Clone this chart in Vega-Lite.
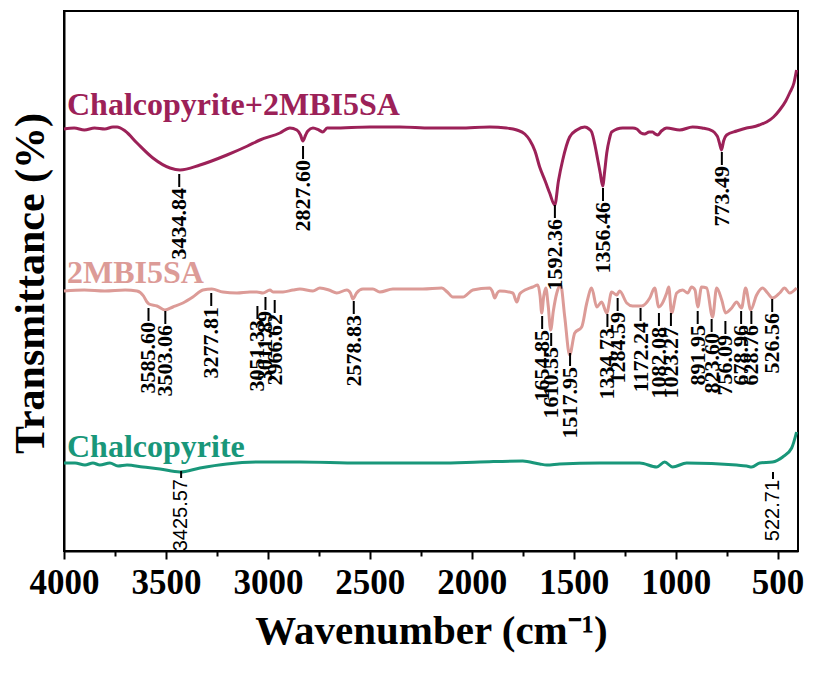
{
  "$schema": "https://vega.github.io/schema/vega-lite/v6.json",
  "width": 734,
  "height": 540,
  "autosize": "none",
  "padding": {"left": 64, "top": 11, "right": 20, "bottom": 124},
  "background": "white",
  "config": {
    "view": {"stroke": "black", "strokeWidth": 2},
    "font": "Liberation Serif"
  },
  "datasets": {
    "spectra": [
      {"series": "Chalcopyrite+2MBI5SA", "w": 4000, "t": 422}, {"series": "Chalcopyrite+2MBI5SA", "w": 3950, "t": 423}, {"series": "Chalcopyrite+2MBI5SA", "w": 3900, "t": 421}, {"series": "Chalcopyrite+2MBI5SA", "w": 3850, "t": 423}, {"series": "Chalcopyrite+2MBI5SA", "w": 3800, "t": 422}, {"series": "Chalcopyrite+2MBI5SA", "w": 3760, "t": 424}, {"series": "Chalcopyrite+2MBI5SA", "w": 3740, "t": 424}, {"series": "Chalcopyrite+2MBI5SA", "w": 3700, "t": 420}, {"series": "Chalcopyrite+2MBI5SA", "w": 3642, "t": 408}, {"series": "Chalcopyrite+2MBI5SA", "w": 3564, "t": 393}, {"series": "Chalcopyrite+2MBI5SA", "w": 3480, "t": 383}, {"series": "Chalcopyrite+2MBI5SA", "w": 3431, "t": 381}, {"series": "Chalcopyrite+2MBI5SA", "w": 3333, "t": 386}, {"series": "Chalcopyrite+2MBI5SA", "w": 3201, "t": 396}, {"series": "Chalcopyrite+2MBI5SA", "w": 3100, "t": 405}, {"series": "Chalcopyrite+2MBI5SA", "w": 3039, "t": 411}, {"series": "Chalcopyrite+2MBI5SA", "w": 2941, "t": 418}, {"series": "Chalcopyrite+2MBI5SA", "w": 2892, "t": 423}, {"series": "Chalcopyrite+2MBI5SA", "w": 2858, "t": 421}, {"series": "Chalcopyrite+2MBI5SA", "w": 2840, "t": 416}, {"series": "Chalcopyrite+2MBI5SA", "w": 2828, "t": 410}, {"series": "Chalcopyrite+2MBI5SA", "w": 2815, "t": 416}, {"series": "Chalcopyrite+2MBI5SA", "w": 2804, "t": 420}, {"series": "Chalcopyrite+2MBI5SA", "w": 2779, "t": 423}, {"series": "Chalcopyrite+2MBI5SA", "w": 2750, "t": 421}, {"series": "Chalcopyrite+2MBI5SA", "w": 2730, "t": 419}, {"series": "Chalcopyrite+2MBI5SA", "w": 2710, "t": 423}, {"series": "Chalcopyrite+2MBI5SA", "w": 2681, "t": 423}, {"series": "Chalcopyrite+2MBI5SA", "w": 2500, "t": 424}, {"series": "Chalcopyrite+2MBI5SA", "w": 2353, "t": 424}, {"series": "Chalcopyrite+2MBI5SA", "w": 2200, "t": 423}, {"series": "Chalcopyrite+2MBI5SA", "w": 2059, "t": 423}, {"series": "Chalcopyrite+2MBI5SA", "w": 1912, "t": 424}, {"series": "Chalcopyrite+2MBI5SA", "w": 1830, "t": 423}, {"series": "Chalcopyrite+2MBI5SA", "w": 1779, "t": 421}, {"series": "Chalcopyrite+2MBI5SA", "w": 1740, "t": 417}, {"series": "Chalcopyrite+2MBI5SA", "w": 1716, "t": 411}, {"series": "Chalcopyrite+2MBI5SA", "w": 1690, "t": 400}, {"series": "Chalcopyrite+2MBI5SA", "w": 1667, "t": 384}, {"series": "Chalcopyrite+2MBI5SA", "w": 1640, "t": 370}, {"series": "Chalcopyrite+2MBI5SA", "w": 1618, "t": 358}, {"series": "Chalcopyrite+2MBI5SA", "w": 1593, "t": 346}, {"series": "Chalcopyrite+2MBI5SA", "w": 1575, "t": 370}, {"series": "Chalcopyrite+2MBI5SA", "w": 1554, "t": 391}, {"series": "Chalcopyrite+2MBI5SA", "w": 1520, "t": 414}, {"series": "Chalcopyrite+2MBI5SA", "w": 1485, "t": 421}, {"series": "Chalcopyrite+2MBI5SA", "w": 1446, "t": 424}, {"series": "Chalcopyrite+2MBI5SA", "w": 1425, "t": 422}, {"series": "Chalcopyrite+2MBI5SA", "w": 1412, "t": 419}, {"series": "Chalcopyrite+2MBI5SA", "w": 1395, "t": 405}, {"series": "Chalcopyrite+2MBI5SA", "w": 1382, "t": 391}, {"series": "Chalcopyrite+2MBI5SA", "w": 1370, "t": 378}, {"series": "Chalcopyrite+2MBI5SA", "w": 1358, "t": 365}, {"series": "Chalcopyrite+2MBI5SA", "w": 1348, "t": 380}, {"series": "Chalcopyrite+2MBI5SA", "w": 1338, "t": 398}, {"series": "Chalcopyrite+2MBI5SA", "w": 1325, "t": 412}, {"series": "Chalcopyrite+2MBI5SA", "w": 1314, "t": 419}, {"series": "Chalcopyrite+2MBI5SA", "w": 1260, "t": 423}, {"series": "Chalcopyrite+2MBI5SA", "w": 1210, "t": 423}, {"series": "Chalcopyrite+2MBI5SA", "w": 1191, "t": 422}, {"series": "Chalcopyrite+2MBI5SA", "w": 1170, "t": 418}, {"series": "Chalcopyrite+2MBI5SA", "w": 1152, "t": 417}, {"series": "Chalcopyrite+2MBI5SA", "w": 1130, "t": 419}, {"series": "Chalcopyrite+2MBI5SA", "w": 1113, "t": 419}, {"series": "Chalcopyrite+2MBI5SA", "w": 1100, "t": 417}, {"series": "Chalcopyrite+2MBI5SA", "w": 1088, "t": 416}, {"series": "Chalcopyrite+2MBI5SA", "w": 1070, "t": 420}, {"series": "Chalcopyrite+2MBI5SA", "w": 1044, "t": 423}, {"series": "Chalcopyrite+2MBI5SA", "w": 980, "t": 421}, {"series": "Chalcopyrite+2MBI5SA", "w": 917, "t": 424}, {"series": "Chalcopyrite+2MBI5SA", "w": 870, "t": 423}, {"series": "Chalcopyrite+2MBI5SA", "w": 819, "t": 420}, {"series": "Chalcopyrite+2MBI5SA", "w": 800, "t": 416}, {"series": "Chalcopyrite+2MBI5SA", "w": 794, "t": 414}, {"series": "Chalcopyrite+2MBI5SA", "w": 784, "t": 407}, {"series": "Chalcopyrite+2MBI5SA", "w": 775, "t": 401}, {"series": "Chalcopyrite+2MBI5SA", "w": 765, "t": 410}, {"series": "Chalcopyrite+2MBI5SA", "w": 750, "t": 416}, {"series": "Chalcopyrite+2MBI5SA", "w": 701, "t": 420}, {"series": "Chalcopyrite+2MBI5SA", "w": 652, "t": 423}, {"series": "Chalcopyrite+2MBI5SA", "w": 623, "t": 424}, {"series": "Chalcopyrite+2MBI5SA", "w": 590, "t": 426}, {"series": "Chalcopyrite+2MBI5SA", "w": 554, "t": 429}, {"series": "Chalcopyrite+2MBI5SA", "w": 520, "t": 434}, {"series": "Chalcopyrite+2MBI5SA", "w": 490, "t": 441}, {"series": "Chalcopyrite+2MBI5SA", "w": 460, "t": 450}, {"series": "Chalcopyrite+2MBI5SA", "w": 441, "t": 458}, {"series": "Chalcopyrite+2MBI5SA", "w": 420, "t": 468}, {"series": "Chalcopyrite+2MBI5SA", "w": 407, "t": 481},

      {"series": "2MBI5SA", "w": 4000, "t": 260}, {"series": "2MBI5SA", "w": 3900, "t": 261}, {"series": "2MBI5SA", "w": 3800, "t": 260}, {"series": "2MBI5SA", "w": 3700, "t": 261}, {"series": "2MBI5SA", "w": 3642, "t": 260}, {"series": "2MBI5SA", "w": 3610, "t": 255}, {"series": "2MBI5SA", "w": 3593, "t": 249}, {"series": "2MBI5SA", "w": 3583, "t": 247}, {"series": "2MBI5SA", "w": 3544, "t": 245}, {"series": "2MBI5SA", "w": 3505, "t": 241}, {"series": "2MBI5SA", "w": 3466, "t": 244}, {"series": "2MBI5SA", "w": 3417, "t": 248}, {"series": "2MBI5SA", "w": 3368, "t": 254}, {"series": "2MBI5SA", "w": 3319, "t": 261}, {"series": "2MBI5SA", "w": 3275, "t": 262}, {"series": "2MBI5SA", "w": 3221, "t": 259}, {"series": "2MBI5SA", "w": 3152, "t": 258}, {"series": "2MBI5SA", "w": 3088, "t": 259}, {"series": "2MBI5SA", "w": 3054, "t": 259}, {"series": "2MBI5SA", "w": 3024, "t": 258}, {"series": "2MBI5SA", "w": 2990, "t": 261}, {"series": "2MBI5SA", "w": 2975, "t": 259}, {"series": "2MBI5SA", "w": 2926, "t": 259}, {"series": "2MBI5SA", "w": 2877, "t": 261}, {"series": "2MBI5SA", "w": 2843, "t": 262}, {"series": "2MBI5SA", "w": 2779, "t": 260}, {"series": "2MBI5SA", "w": 2745, "t": 263}, {"series": "2MBI5SA", "w": 2700, "t": 261}, {"series": "2MBI5SA", "w": 2662, "t": 258}, {"series": "2MBI5SA", "w": 2613, "t": 261}, {"series": "2MBI5SA", "w": 2595, "t": 258}, {"series": "2MBI5SA", "w": 2583, "t": 252}, {"series": "2MBI5SA", "w": 2565, "t": 258}, {"series": "2MBI5SA", "w": 2534, "t": 262}, {"series": "2MBI5SA", "w": 2485, "t": 262}, {"series": "2MBI5SA", "w": 2451, "t": 259}, {"series": "2MBI5SA", "w": 2387, "t": 262}, {"series": "2MBI5SA", "w": 2300, "t": 262}, {"series": "2MBI5SA", "w": 2240, "t": 262}, {"series": "2MBI5SA", "w": 2147, "t": 263}, {"series": "2MBI5SA", "w": 2120, "t": 259}, {"series": "2MBI5SA", "w": 2093, "t": 254}, {"series": "2MBI5SA", "w": 2044, "t": 254}, {"series": "2MBI5SA", "w": 1995, "t": 261}, {"series": "2MBI5SA", "w": 1912, "t": 263}, {"series": "2MBI5SA", "w": 1900, "t": 260}, {"series": "2MBI5SA", "w": 1887, "t": 253}, {"series": "2MBI5SA", "w": 1875, "t": 258}, {"series": "2MBI5SA", "w": 1863, "t": 260}, {"series": "2MBI5SA", "w": 1799, "t": 258}, {"series": "2MBI5SA", "w": 1779, "t": 249}, {"series": "2MBI5SA", "w": 1765, "t": 257}, {"series": "2MBI5SA", "w": 1755, "t": 259}, {"series": "2MBI5SA", "w": 1701, "t": 264}, {"series": "2MBI5SA", "w": 1676, "t": 266}, {"series": "2MBI5SA", "w": 1665, "t": 255}, {"series": "2MBI5SA", "w": 1657, "t": 238}, {"series": "2MBI5SA", "w": 1647, "t": 255}, {"series": "2MBI5SA", "w": 1637, "t": 263}, {"series": "2MBI5SA", "w": 1625, "t": 245}, {"series": "2MBI5SA", "w": 1613, "t": 221}, {"series": "2MBI5SA", "w": 1600, "t": 240}, {"series": "2MBI5SA", "w": 1583, "t": 258}, {"series": "2MBI5SA", "w": 1564, "t": 266}, {"series": "2MBI5SA", "w": 1544, "t": 234}, {"series": "2MBI5SA", "w": 1520, "t": 196}, {"series": "2MBI5SA", "w": 1495, "t": 218}, {"series": "2MBI5SA", "w": 1461, "t": 224}, {"series": "2MBI5SA", "w": 1436, "t": 248}, {"series": "2MBI5SA", "w": 1412, "t": 263}, {"series": "2MBI5SA", "w": 1387, "t": 244}, {"series": "2MBI5SA", "w": 1363, "t": 249}, {"series": "2MBI5SA", "w": 1338, "t": 238}, {"series": "2MBI5SA", "w": 1314, "t": 259}, {"series": "2MBI5SA", "w": 1289, "t": 256}, {"series": "2MBI5SA", "w": 1275, "t": 260}, {"series": "2MBI5SA", "w": 1240, "t": 248}, {"series": "2MBI5SA", "w": 1211, "t": 245}, {"series": "2MBI5SA", "w": 1167, "t": 245}, {"series": "2MBI5SA", "w": 1127, "t": 253}, {"series": "2MBI5SA", "w": 1103, "t": 263}, {"series": "2MBI5SA", "w": 1083, "t": 244}, {"series": "2MBI5SA", "w": 1044, "t": 258}, {"series": "2MBI5SA", "w": 1034, "t": 264}, {"series": "2MBI5SA", "w": 1020, "t": 238}, {"series": "2MBI5SA", "w": 995, "t": 258}, {"series": "2MBI5SA", "w": 966, "t": 261}, {"series": "2MBI5SA", "w": 941, "t": 258}, {"series": "2MBI5SA", "w": 922, "t": 264}, {"series": "2MBI5SA", "w": 905, "t": 261}, {"series": "2MBI5SA", "w": 892, "t": 244}, {"series": "2MBI5SA", "w": 873, "t": 264}, {"series": "2MBI5SA", "w": 848, "t": 263}, {"series": "2MBI5SA", "w": 819, "t": 234}, {"series": "2MBI5SA", "w": 799, "t": 263}, {"series": "2MBI5SA", "w": 774, "t": 251}, {"series": "2MBI5SA", "w": 755, "t": 238}, {"series": "2MBI5SA", "w": 725, "t": 243}, {"series": "2MBI5SA", "w": 701, "t": 249}, {"series": "2MBI5SA", "w": 677, "t": 243}, {"series": "2MBI5SA", "w": 657, "t": 263}, {"series": "2MBI5SA", "w": 632, "t": 241}, {"series": "2MBI5SA", "w": 603, "t": 256}, {"series": "2MBI5SA", "w": 574, "t": 263}, {"series": "2MBI5SA", "w": 549, "t": 258}, {"series": "2MBI5SA", "w": 525, "t": 253}, {"series": "2MBI5SA", "w": 490, "t": 258}, {"series": "2MBI5SA", "w": 466, "t": 263}, {"series": "2MBI5SA", "w": 441, "t": 258}, {"series": "2MBI5SA", "w": 407, "t": 263},

      {"series": "Chalcopyrite", "w": 4000, "t": 88}, {"series": "Chalcopyrite", "w": 3946, "t": 88}, {"series": "Chalcopyrite", "w": 3897, "t": 86}, {"series": "Chalcopyrite", "w": 3858, "t": 88}, {"series": "Chalcopyrite", "w": 3824, "t": 86}, {"series": "Chalcopyrite", "w": 3775, "t": 88}, {"series": "Chalcopyrite", "w": 3735, "t": 85}, {"series": "Chalcopyrite", "w": 3691, "t": 86}, {"series": "Chalcopyrite", "w": 3613, "t": 84}, {"series": "Chalcopyrite", "w": 3529, "t": 82}, {"series": "Chalcopyrite", "w": 3431, "t": 79}, {"series": "Chalcopyrite", "w": 3333, "t": 83}, {"series": "Chalcopyrite", "w": 3201, "t": 87}, {"series": "Chalcopyrite", "w": 3039, "t": 89}, {"series": "Chalcopyrite", "w": 2843, "t": 89}, {"series": "Chalcopyrite", "w": 2549, "t": 88}, {"series": "Chalcopyrite", "w": 2157, "t": 88}, {"series": "Chalcopyrite", "w": 1961, "t": 89}, {"series": "Chalcopyrite", "w": 1750, "t": 90}, {"series": "Chalcopyrite", "w": 1667, "t": 87}, {"series": "Chalcopyrite", "w": 1632, "t": 86}, {"series": "Chalcopyrite", "w": 1569, "t": 87}, {"series": "Chalcopyrite", "w": 1373, "t": 88}, {"series": "Chalcopyrite", "w": 1176, "t": 88}, {"series": "Chalcopyrite", "w": 1093, "t": 84}, {"series": "Chalcopyrite", "w": 1054, "t": 89}, {"series": "Chalcopyrite", "w": 1015, "t": 84}, {"series": "Chalcopyrite", "w": 946, "t": 88}, {"series": "Chalcopyrite", "w": 701, "t": 86}, {"series": "Chalcopyrite", "w": 652, "t": 85}, {"series": "Chalcopyrite", "w": 627, "t": 84}, {"series": "Chalcopyrite", "w": 588, "t": 88}, {"series": "Chalcopyrite", "w": 525, "t": 89}, {"series": "Chalcopyrite", "w": 475, "t": 94}, {"series": "Chalcopyrite", "w": 431, "t": 103}, {"series": "Chalcopyrite", "w": 407, "t": 119}
    ],
    "peaks": [
      {"series": "Chalcopyrite+2MBI5SA", "w": 3434.84, "t": 378},
      {"series": "Chalcopyrite+2MBI5SA", "w": 2827.60, "t": 406},
      {"series": "Chalcopyrite+2MBI5SA", "w": 1592.36, "t": 347},
      {"series": "Chalcopyrite+2MBI5SA", "w": 1356.46, "t": 364},
      {"series": "Chalcopyrite+2MBI5SA", "w": 773.49, "t": 400},
      {"series": "2MBI5SA", "w": 3585.60, "t": 244},
      {"series": "2MBI5SA", "w": 3503.06, "t": 241},
      {"series": "2MBI5SA", "w": 3277.81, "t": 259},
      {"series": "2MBI5SA", "w": 3051.33, "t": 246},
      {"series": "2MBI5SA", "w": 3011.89, "t": 255},
      {"series": "2MBI5SA", "w": 2966.62, "t": 252},
      {"series": "2MBI5SA", "w": 2578.83, "t": 251},
      {"series": "2MBI5SA", "w": 1654.85, "t": 236},
      {"series": "2MBI5SA", "w": 1610.55, "t": 219},
      {"series": "2MBI5SA", "w": 1517.95, "t": 199},
      {"series": "2MBI5SA", "w": 1334.73, "t": 238},
      {"series": "2MBI5SA", "w": 1284.59, "t": 254},
      {"series": "2MBI5SA", "w": 1172.24, "t": 244},
      {"series": "2MBI5SA", "w": 1082.08, "t": 239},
      {"series": "2MBI5SA", "w": 1023.27, "t": 239},
      {"series": "2MBI5SA", "w": 891.95, "t": 241},
      {"series": "2MBI5SA", "w": 823.60, "t": 233},
      {"series": "2MBI5SA", "w": 756.09, "t": 231},
      {"series": "2MBI5SA", "w": 678.96, "t": 241},
      {"series": "2MBI5SA", "w": 628.76, "t": 241},
      {"series": "2MBI5SA", "w": 526.56, "t": 253},
      {"series": "Chalcopyrite", "w": 3425.57, "t": 80},
      {"series": "Chalcopyrite", "w": 522.71, "t": 79}
    ]
  },
  "encoding": {
    "x": {
      "field": "w",
      "type": "quantitative",
      "scale": {"domain": [4000, 400], "nice": false, "zero": false},
      "axis": {
        "values": [4000, 3750, 3500, 3250, 3000, 2750, 2500, 2250, 2000, 1750, 1500, 1250, 1000, 750, 500],
        "format": "d",
        "labelExpr": "datum.value % 500 === 0 ? datum.label : ''",
        "tickSize": {"condition": {"test": "datum.value % 500 === 0", "value": 8}, "value": 5},
        "tickWidth": 2,
        "tickColor": "black",
        "domainColor": "black",
        "domainWidth": 2,
        "grid": false,
        "labelFont": "Liberation Serif",
        "labelFontWeight": "bold",
        "labelFontSize": 35,
        "labelColor": "black",
        "labelPadding": 6,
        "labelOverlap": false,
        "labelFlush": false,
        "labelBound": false,
        "title": "Wavenumber (cm⁻¹)",
        "titleFont": "Liberation Serif",
        "titleFontWeight": "bold",
        "titleFontSize": 41,
        "titleColor": "black",
        "titlePadding": 11
      }
    },
    "y": {
      "field": "t",
      "type": "quantitative",
      "scale": {"domain": [0, 540], "nice": false, "zero": false},
      "axis": {
        "title": "Transmittance (%)",
        "ticks": false,
        "labels": false,
        "grid": false,
        "domainColor": "black",
        "domainWidth": 2,
        "titleFont": "Liberation Serif",
        "titleFontWeight": "bold",
        "titleFontSize": 42,
        "titleColor": "black",
        "titleBaseline": "alphabetic",
        "titleX": -21,
        "titleY": 272
      }
    }
  },
  "layer": [
    {
      "data": {"name": "spectra"},
      "mark": {"type": "line", "strokeWidth": 3, "interpolate": "monotone"},
      "encoding": {
        "color": {
          "field": "series",
          "type": "nominal",
          "scale": {
            "domain": ["Chalcopyrite+2MBI5SA", "2MBI5SA", "Chalcopyrite"],
            "range": ["#9c2158", "#dc9b97", "#19977a"]
          },
          "legend": null
        }
      }
    },
    {
      "data": {"name": "peaks"},
      "transform": [{"filter": "datum.series !== 'Chalcopyrite'"}],
      "mark": {"type": "rule", "color": "black", "strokeWidth": 2, "yOffset": 1, "y2Offset": 14},
      "encoding": {"y2": {"field": "t"}}
    },
    {
      "data": {"name": "peaks"},
      "transform": [{"filter": "datum.series === 'Chalcopyrite+2MBI5SA'"}],
      "mark": {"type": "text", "angle": 270, "align": "right", "baseline": "middle", "yOffset": 15, "font": "Liberation Serif", "fontWeight": "bold", "fontSize": 22, "color": "black"},
      "encoding": {"text": {"field": "w", "type": "quantitative", "format": ".2f"}}
    },
    {
      "data": {"name": "peaks"},
      "transform": [{"filter": "datum.series === '2MBI5SA'"}],
      "mark": {"type": "text", "angle": 270, "align": "right", "baseline": "middle", "yOffset": 15, "font": "Liberation Serif", "fontWeight": "bold", "fontSize": 22, "color": "black"},
      "encoding": {"text": {"field": "w", "type": "quantitative", "format": ".2f"}}
    },
    {
      "data": {"name": "peaks"},
      "transform": [{"filter": "datum.series === 'Chalcopyrite'"}],
      "mark": {"type": "rule", "color": "black", "strokeWidth": 2, "yOffset": 0, "y2Offset": 7},
      "encoding": {"y2": {"field": "t"}}
    },
    {
      "data": {"name": "peaks"},
      "transform": [{"filter": "datum.series === 'Chalcopyrite'"}],
      "mark": {"type": "text", "angle": 270, "align": "right", "baseline": "middle", "yOffset": 8, "font": "Liberation Sans", "fontSize": 20, "color": "black"},
      "encoding": {"text": {"field": "w", "type": "quantitative", "format": ".2f"}}
    },
    {
      "data": {"name": "spectra"},
      "transform": [{"filter": "datum.series === 'Chalcopyrite+2MBI5SA' && datum.w === 4000"}],
      "mark": {"type": "text", "align": "left", "baseline": "alphabetic", "dx": 3, "dy": -14, "font": "Liberation Serif", "fontWeight": "bold", "fontSize": 32},
      "encoding": {"text": {"field": "series"}, "color": {"field": "series", "type": "nominal", "legend": null}}
    },
    {
      "data": {"name": "spectra"},
      "transform": [{"filter": "datum.series === '2MBI5SA' && datum.w === 4000"}],
      "mark": {"type": "text", "align": "left", "baseline": "alphabetic", "dx": 3, "dy": -8, "font": "Liberation Serif", "fontWeight": "bold", "fontSize": 32},
      "encoding": {"text": {"field": "series"}, "color": {"field": "series", "type": "nominal", "legend": null}}
    },
    {
      "data": {"name": "spectra"},
      "transform": [{"filter": "datum.series === 'Chalcopyrite' && datum.w === 4000"}],
      "mark": {"type": "text", "align": "left", "baseline": "alphabetic", "dx": 3, "dy": -6, "font": "Liberation Serif", "fontWeight": "bold", "fontSize": 32},
      "encoding": {"text": {"field": "series"}, "color": {"field": "series", "type": "nominal", "legend": null}}
    }
  ]
}
